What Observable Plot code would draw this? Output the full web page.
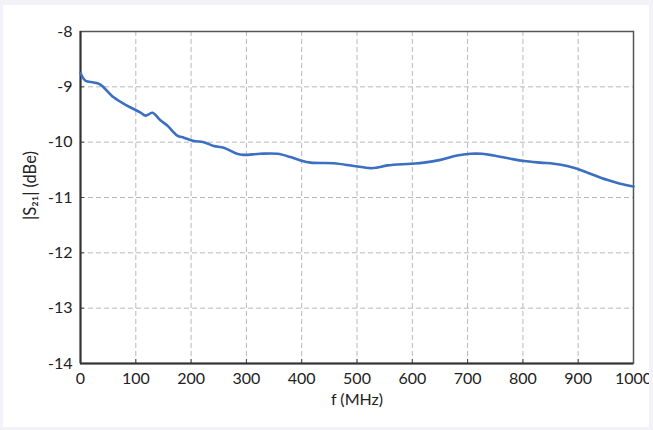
<!DOCTYPE html>
<html>
<head>
<meta charset="utf-8">
<script src="https://cdn.jsdelivr.net/npm/d3@7"></script>
<script src="https://cdn.jsdelivr.net/npm/@observablehq/plot@0.6"></script>
<style>
  html, body { margin: 0; padding: 0; background: #ffffff; }
  #wrap { position: relative; width: 653px; height: 430px; }
  #edge { position: absolute; left: 0; top: 0; width: 653px; height: 430px; box-sizing: border-box;
          border-style: solid; border-color: #f2f2f8; border-width: 5px 4px 3px 3px; pointer-events: none; }
</style>
</head>
<body>
<div id="wrap"><div id="edge"></div></div>
<script>
const freqMHz = [0, 9, 24, 36, 60, 84, 108, 118, 130, 145, 157, 175, 187, 205, 223, 241, 259, 283, 295, 325, 356, 380, 398, 416, 458, 494, 524, 536, 555, 597, 621, 651, 681, 705, 726, 747, 778, 802, 832, 856, 880, 898, 922, 952, 976, 1000];
const s21dBe = [-8.75, -8.89, -8.92, -8.96, -9.19, -9.34, -9.46, -9.52, -9.47, -9.61, -9.70, -9.88, -9.92, -9.98, -10.00, -10.07, -10.10, -10.21, -10.23, -10.21, -10.21, -10.27, -10.33, -10.37, -10.38, -10.43, -10.47, -10.46, -10.42, -10.39, -10.37, -10.32, -10.24, -10.21, -10.21, -10.24, -10.30, -10.34, -10.37, -10.39, -10.43, -10.48, -10.57, -10.68, -10.75, -10.80];
const xTicks = [0, 100, 200, 300, 400, 500, 600, 700, 800, 900, 1000];
const yTicks = [-8, -9, -10, -11, -12, -13, -14];
const xLabel = "f (MHz)";
const yLabel = "|S₂₁| (dBe)";

const data = freqMHz.map((f, i) => ({f, v: s21dBe[i]}));

const chart = Plot.plot({
  width: 653,
  height: 430,
  marginLeft: 80,
  marginRight: 20,
  marginTop: 31,
  marginBottom: 67,
  style: {fontFamily: "Lato, sans-serif", fontSize: "16px", color: "#222", background: "transparent"},
  x: {domain: [0, 1000]},
  y: {domain: [-14, -8]},
  marks: [
    Plot.gridX(xTicks, {stroke: "#b8b8b8", strokeOpacity: 1, strokeDasharray: "5,3"}),
    Plot.gridY(yTicks, {stroke: "#b8b8b8", strokeOpacity: 1, strokeDasharray: "5,3"}),
    Plot.axisX(xTicks, {tickSize: -4, tickPadding: 13, tickFormat: d => String(d), label: xLabel, labelAnchor: "center", labelArrow: "none", labelOffset: 41, stroke: "#444", fontSize: 16}),
    Plot.axisY(yTicks, {tickSize: -4, tickPadding: 12, tickFormat: d => String(d), label: null, stroke: "#444", fontSize: 16}),
    Plot.text([yLabel], {frameAnchor: "left", textAnchor: "middle", rotate: -90, dx: -50, dy: -12, fontSize: 16.5, fill: "#222"}),
    Plot.frame({stroke: "#555", strokeWidth: 1.5}),
    Plot.ruleX([0], {stroke: "#333", strokeWidth: 2}),
    Plot.ruleY([-14], {stroke: "#333", strokeWidth: 2}),
    Plot.line(data, {x: "f", y: "v", stroke: "#3a6fc2", strokeWidth: 2.6, curve: "catmull-rom"})
  ]
});
document.getElementById("wrap").prepend(chart);
</script>
</body>
</html>
